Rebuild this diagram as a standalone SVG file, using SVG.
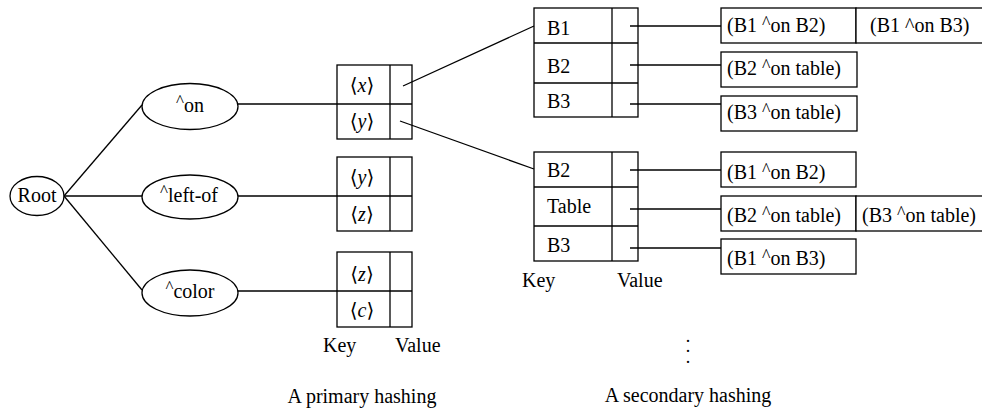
<svg xmlns="http://www.w3.org/2000/svg" width="982" height="411" viewBox="0 0 982 411">
<style>
.ln{stroke:#000;stroke-width:1.3;fill:none}
.bx{fill:#fff;stroke:#000;stroke-width:1.3}
.t{font-family:"Liberation Serif","DejaVu Serif",serif;font-size:20px;fill:#000}
.m{text-anchor:middle}
.i{font-style:italic}
.s1{font-size:17px}
.s2{font-size:18px}
</style>
<rect width="982" height="411" fill="#fff"/>
<g id="root">
<ellipse class="bx" cx="37" cy="196" rx="27" ry="19.5"/>
<text class="t m" x="37" y="202">Root</text>
</g>
<g id="on">
<ellipse class="bx" cx="190" cy="106.5" rx="48" ry="23"/>
<text class="t m" x="190" y="112"><tspan class="s1" dy="-6">^</tspan><tspan dy="6">on</tspan></text>
</g>
<g id="leftof">
<ellipse class="bx" cx="190" cy="197" rx="48" ry="22"/>
<text class="t m" x="189" y="202"><tspan class="s1" dy="-6">^</tspan><tspan dy="6">left-of</tspan></text>
</g>
<g id="color">
<ellipse class="bx" cx="190" cy="293" rx="48" ry="23"/>
<text class="t m" x="190" y="298"><tspan class="s1" dy="-6">^</tspan><tspan dy="6">color</tspan></text>
</g>
<g id="table-on">
<rect class="bx" x="337" y="65" width="75" height="74"/>
<line class="ln" x1="337" y1="104" x2="412" y2="104"/>
<line class="ln" x1="390" y1="65" x2="390" y2="139"/>
<text class="t m" x="362" y="92">⟨<tspan class="i">x</tspan>⟩</text>
<text class="t m" x="362" y="128">⟨<tspan class="i">y</tspan>⟩</text>
</g>
<g id="table-leftof">
<rect class="bx" x="337" y="157" width="75" height="74"/>
<line class="ln" x1="337" y1="196" x2="412" y2="196"/>
<line class="ln" x1="390" y1="157" x2="390" y2="231"/>
<text class="t m" x="362" y="184">⟨<tspan class="i">y</tspan>⟩</text>
<text class="t m" x="362" y="221">⟨<tspan class="i">z</tspan>⟩</text>
</g>
<g id="table-color">
<rect class="bx" x="337" y="252" width="75" height="75"/>
<line class="ln" x1="337" y1="291" x2="412" y2="291"/>
<line class="ln" x1="390" y1="252" x2="390" y2="327"/>
<text class="t m" x="362" y="281">⟨<tspan class="i">z</tspan>⟩</text>
<text class="t m" x="362" y="317">⟨<tspan class="i">c</tspan>⟩</text>
</g>
<g id="primary-labels">
<text class="t" x="323" y="352">Key</text>
<text class="t" x="395" y="352">Value</text>
<text class="t m" x="362" y="403">A primary hashing</text>
</g>
<g id="sec-table-x">
<rect class="bx" x="534" y="8" width="104" height="109"/>
<line class="ln" x1="534" y1="43" x2="638" y2="43"/>
<line class="ln" x1="534" y1="83" x2="638" y2="83"/>
<line class="ln" x1="612" y1="8" x2="612" y2="117"/>
<text class="t" x="547" y="35">B1</text>
<text class="t" x="547" y="73">B2</text>
<text class="t" x="547" y="108">B3</text>
</g>
<g id="sec-table-y">
<rect class="bx" x="534" y="152" width="104" height="109"/>
<line class="ln" x1="534" y1="187" x2="638" y2="187"/>
<line class="ln" x1="534" y1="226" x2="638" y2="226"/>
<line class="ln" x1="612" y1="152" x2="612" y2="261"/>
<text class="t" x="547" y="177">B2</text>
<text class="t" x="547" y="213">Table</text>
<text class="t" x="547" y="252">B3</text>
</g>
<g id="secondary-labels">
<text class="t" x="522" y="287">Key</text>
<text class="t" x="617" y="287">Value</text>
<text class="t m" style="font-size:18px"><tspan x="688" y="342">.</tspan><tspan x="688" y="352">.</tspan><tspan x="688" y="363">.</tspan></text>
<text class="t m" x="688" y="402">A secondary hashing</text>
</g>
<g id="res-b1">
<rect class="bx" x="721" y="8" width="135" height="35"/>
<rect class="bx" x="856" y="8" width="140" height="35"/>
<text class="t" x="727" y="32">(B1 <tspan class="s2" dy="-3">^</tspan><tspan dy="3">on B2)</tspan></text>
<text class="t" x="870" y="32">(B1 ^on B3)</text>
</g>
<g id="res-b2">
<rect class="bx" x="721" y="52" width="136" height="35"/>
<text class="t" x="727" y="75">(B2 <tspan class="s2" dy="-3">^</tspan><tspan dy="3">on table)</tspan></text>
</g>
<g id="res-b3">
<rect class="bx" x="721" y="96" width="136" height="35"/>
<text class="t" x="727" y="119">(B3 <tspan class="s2" dy="-3">^</tspan><tspan dy="3">on table)</tspan></text>
</g>
<g id="res-y-b2">
<rect class="bx" x="721" y="152" width="135" height="35"/>
<text class="t" x="727" y="179">(B1 <tspan class="s2" dy="-3">^</tspan><tspan dy="3">on B2)</tspan></text>
</g>
<g id="res-y-table">
<rect class="bx" x="721" y="196" width="135" height="35"/>
<rect class="bx" x="856" y="196" width="140" height="35"/>
<text class="t" x="727" y="222">(B2 <tspan class="s2" dy="-3">^</tspan><tspan dy="3">on table)</tspan></text>
<text class="t" x="862" y="222">(B3 <tspan class="s2" dy="-3">^</tspan><tspan dy="3">on table)</tspan></text>
</g>
<g id="res-y-b3">
<rect class="bx" x="721" y="239" width="135" height="35"/>
<text class="t" x="727" y="265">(B1 <tspan class="s2" dy="-3">^</tspan><tspan dy="3">on B3)</tspan></text>
</g>
<g id="connectors">
<line class="ln" x1="64" y1="196" x2="142" y2="105"/>
<line class="ln" x1="64" y1="196" x2="142" y2="196"/>
<line class="ln" x1="64" y1="196" x2="142" y2="290"/>
<line class="ln" x1="238" y1="104" x2="337" y2="104"/>
<line class="ln" x1="238" y1="196" x2="337" y2="196"/>
<line class="ln" x1="238" y1="291" x2="337" y2="291"/>
<line class="ln" x1="403" y1="86" x2="534" y2="26"/>
<line class="ln" x1="400" y1="121" x2="534" y2="169"/>
<line class="ln" x1="630" y1="26" x2="721" y2="26"/>
<line class="ln" x1="630" y1="65" x2="721" y2="65"/>
<line class="ln" x1="630" y1="104" x2="721" y2="104"/>
<line class="ln" x1="630" y1="170" x2="721" y2="170"/>
<line class="ln" x1="630" y1="209" x2="721" y2="209"/>
<line class="ln" x1="630" y1="248" x2="721" y2="248"/>
</g>
</svg>
